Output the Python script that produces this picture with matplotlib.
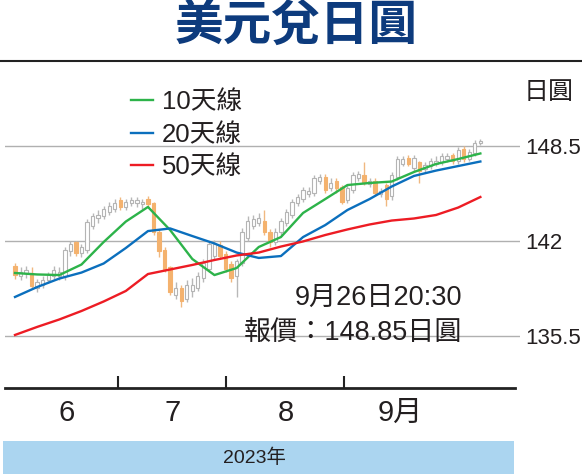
import matplotlib
matplotlib.use('Agg')
import matplotlib.pyplot as plt
import matplotlib.font_manager as fm
from matplotlib.lines import Line2D
from matplotlib.patches import Rectangle
import numpy as np

# daily candles, June -> 26 Sep 2023
opens = [140.3, 139.6, 139.8, 139.8, 138.8, 139.0, 139.3, 139.6, 139.6, 139.6,
         141.3, 141.9, 141.2, 141.4, 143.0, 143.6, 143.7, 144.0, 144.2, 144.8,
         144.3, 144.6, 144.6, 144.5, 144.9, 144.6, 142.6, 141.4, 140.2, 138.3,
         138.8, 138.0, 138.6, 138.8, 139.5, 140.1, 141.0, 141.7, 141.1, 140.4,
         139.6, 140.5, 142.2, 143.0, 143.2, 143.4, 142.6, 141.9, 142.6, 143.2,
         143.8, 144.6, 144.9, 145.2, 145.3, 146.1, 146.4, 145.6, 146.1, 145.7,
         144.8, 145.5, 146.3, 146.5, 145.9, 146.1, 145.2, 145.8, 145.1, 146.4,
         147.3, 147.7, 147.0, 147.4, 146.9, 147.1, 147.3, 147.4, 147.6, 147.9,
         147.5, 148.3, 147.6, 148.0, 148.7]
highs = [140.5, 140.2, 140.3, 140.2, 139.4, 139.6, 139.9, 140.3, 140.2, 141.6,
         142.0, 142.0, 141.8, 143.5, 143.9, 144.1, 144.4, 144.7, 144.9, 145.0,
         144.9, 145.0, 145.0, 144.9, 145.1, 144.7, 142.8, 141.6, 140.3, 139.2,
         139.0, 139.3, 139.5, 139.9, 140.8, 142.0, 142.1, 142.0, 141.3, 140.6,
         140.8, 142.9, 143.7, 143.8, 143.9, 144.1, 142.8, 142.9, 143.6, 144.2,
         144.9, 145.2, 145.7, 145.7, 146.5, 146.6, 146.6, 146.3, 146.3, 145.8,
         145.8, 146.7, 146.8, 147.4, 146.3, 146.3, 145.6, 146.0, 146.7, 147.8,
         147.8, 147.9, 147.9, 147.5, 147.4, 147.7, 147.8, 148.0, 148.0, 148.0,
         148.4, 148.5, 148.3, 148.9, 149.0]
lows = [139.4, 139.3, 139.5, 138.7, 138.5, 138.8, 139.1, 139.4, 139.3, 139.3,
        141.0, 141.0, 140.9, 141.2, 142.8, 143.2, 143.5, 143.8, 144.0, 144.1,
        144.1, 144.4, 144.3, 144.2, 144.3, 142.4, 140.9, 139.9, 138.3, 138.0,
        137.5, 137.8, 138.2, 138.6, 139.2, 139.9, 140.7, 140.8, 139.9, 139.2,
        138.2, 140.3, 142.0, 142.8, 143.0, 142.4, 141.6, 141.7, 142.4, 143.0,
        143.6, 144.4, 144.7, 145.0, 145.1, 145.9, 145.3, 145.4, 145.3, 144.5,
        144.6, 145.3, 146.1, 145.8, 145.7, 145.1, 145.0, 144.4, 144.8, 146.2,
        147.1, 147.1, 146.8, 146.0, 146.7, 146.9, 147.1, 147.2, 147.4, 147.3,
        147.3, 147.4, 147.5, 147.8, 148.6]
closes = [139.7, 139.9, 140.0, 138.9, 139.2, 139.3, 139.7, 140.0, 139.9, 141.4,
          141.8, 141.2, 141.6, 143.3, 143.7, 143.8, 144.2, 144.4, 144.6, 144.3,
          144.7, 144.8, 144.8, 144.7, 144.5, 142.6, 141.3, 140.1, 138.5, 138.8,
          137.9, 139.0, 139.0, 139.6, 140.5, 141.8, 141.8, 141.0, 140.1, 139.5,
          140.6, 142.6, 143.4, 143.5, 143.6, 142.6, 141.9, 142.6, 143.4, 144.0,
          144.7, 145.0, 145.5, 145.4, 146.3, 146.4, 145.5, 146.0, 145.6, 144.7,
          145.6, 146.5, 146.6, 146.0, 146.1, 145.3, 145.4, 144.9, 146.5, 147.6,
          147.6, 147.3, 147.7, 146.8, 147.2, 147.5, 147.5, 147.8, 147.8, 147.5,
          148.2, 147.6, 148.1, 148.7, 148.85]

# moving averages read every 4th session
ma_idx = list(range(0, 85, 4))
ma10 = [139.81, 139.71, 139.67, 140.39, 141.93, 143.33, 144.33, 142.75, 140.77, 139.67, 140.15,
        141.59, 142.27, 143.92, 144.87, 145.83, 145.97, 146.07, 146.72, 147.27, 147.61, 147.99]
ma20 = [138.17, 138.85, 139.43, 139.84, 140.46, 141.52, 142.68, 142.86, 142.34, 141.83, 141.21,
        140.84, 140.97, 142.27, 143.09, 144.12, 144.87, 145.73, 146.45, 146.82, 147.13, 147.44]
ma50 = [135.57, 136.12, 136.63, 137.21, 137.86, 138.58, 139.74, 140.05, 140.36, 140.70, 141.01,
        141.21, 141.62, 141.97, 142.41, 142.79, 143.13, 143.40, 143.54, 143.78, 144.29, 145.01]

ytick_vals = [135.5, 142, 148.5]
ytick_labels = ['135.5', '142', '148.5']
month_labels = ['6', '7', '8', '9月']

W, H = 582, 474
def fx(px):
    return px / W
def fy(py):
    return 1 - py / H

step = 5.54  # pixels per session
def ix(px):
    return (px - 15) / step

names = {f.name for f in fm.fontManager.ttflist}
num_font = 'Liberation Sans Narrow' if 'Liberation Sans Narrow' in names else 'Liberation Sans'
plt.rcParams['font.family'] = [num_font, 'Noto Sans CJK TC', 'DejaVu Sans']
TXT = '#231f20'

fig = plt.figure(figsize=(W / 100, H / 100), dpi=100)
ax = fig.add_axes([fx(5), fy(388), fx(520) - fx(5), fy(62) - fy(388)])
ax.set_xlim(ix(5), ix(520))
ax.set_ylim(131.94, 154.25)

o = np.array(opens); c = np.array(closes)
x = np.arange(len(o))
up = c >= o
faces = np.where(up, 'white', '#f4b26e')
edges = np.where(up, '#b4b4b4', '#f4b26e')
wicks = np.where(up, '#b8b8b8', '#f0b880')
ax.vlines(x, lows, highs, colors=wicks, lw=1, zorder=2)
ax.bar(x, np.maximum(np.abs(c - o), 0.12), bottom=np.minimum(o, c), width=0.6,
       color=faces, edgecolor=edges, linewidth=0.8, zorder=3)

ax.plot(ma_idx, ma10, color='#2db34a', lw=1.7, label='10天線', zorder=4)
ax.plot(ma_idx, ma20, color='#0b6fbd', lw=1.7, label='20天線', zorder=4)
ax.plot(ma_idx, ma50, color='#ed1c24', lw=1.7, label='50天線', zorder=4)

ax.legend(loc='upper left', bbox_to_anchor=(fx(131), fy(90)), bbox_transform=fig.transFigure,
          frameon=False, fontsize=18.5, handlelength=0.85, handletextpad=0.35,
          labelspacing=0.34, borderpad=0, borderaxespad=0, labelcolor=TXT)

ax.yaxis.tick_right()
ax.set_yticks(ytick_vals)
ax.set_yticklabels(ytick_labels)
ax.tick_params(axis='y', length=0, pad=4, labelsize=16, labelcolor=TXT)
ax.grid(axis='y', color='#b0b0b0', lw=1)
ax.set_axisbelow(True)

ax.set_xticks([ix(67), ix(173), ix(286), ix(400)])
ax.set_xticklabels(month_labels)
ax.set_xticks([ix(118), ix(226), ix(344)], minor=True)
ax.tick_params(axis='x', which='major', length=0, pad=8, labelsize=21, labelcolor=TXT)
ax.tick_params(axis='x', which='minor', direction='in', length=9, width=1.5, color='#222222')

for s in ['top', 'left', 'right']:
    ax.spines[s].set_visible(False)
ax.spines['bottom'].set_linewidth(2)
ax.spines['bottom'].set_color('#222222')
ax.spines['bottom'].set_bounds(ix(5), ix(515))

fig.text(fx(296), fy(25), '美元兌日圓', ha='center', va='center', fontsize=35,
         fontweight='bold', color='#0d3b7d', family=['Noto Sans CJK TC'])
fig.add_artist(Line2D([0, 1], [fy(61), fy(61)], transform=fig.transFigure, color='#222222', lw=1.5))

fig.text(fx(524), fy(92), '日圓', ha='left', va='center', fontsize=18, color=TXT)
fig.text(fx(462), fy(298), '9月26日20:30', ha='right', va='center', fontsize=19.5, color=TXT)
fig.text(fx(462), fy(333), '報價：148.85日圓', ha='right', va='center', fontsize=19.5, color=TXT)

fig.add_artist(Rectangle((fx(3), 0), fx(514) - fx(3), fy(441), transform=fig.transFigure,
                         facecolor='#abd5f0', edgecolor='none'))
fig.text(fx(254), fy(458), '2023年', ha='center', va='center', fontsize=14, color=TXT)

fig.savefig('out.png', dpi=100)
